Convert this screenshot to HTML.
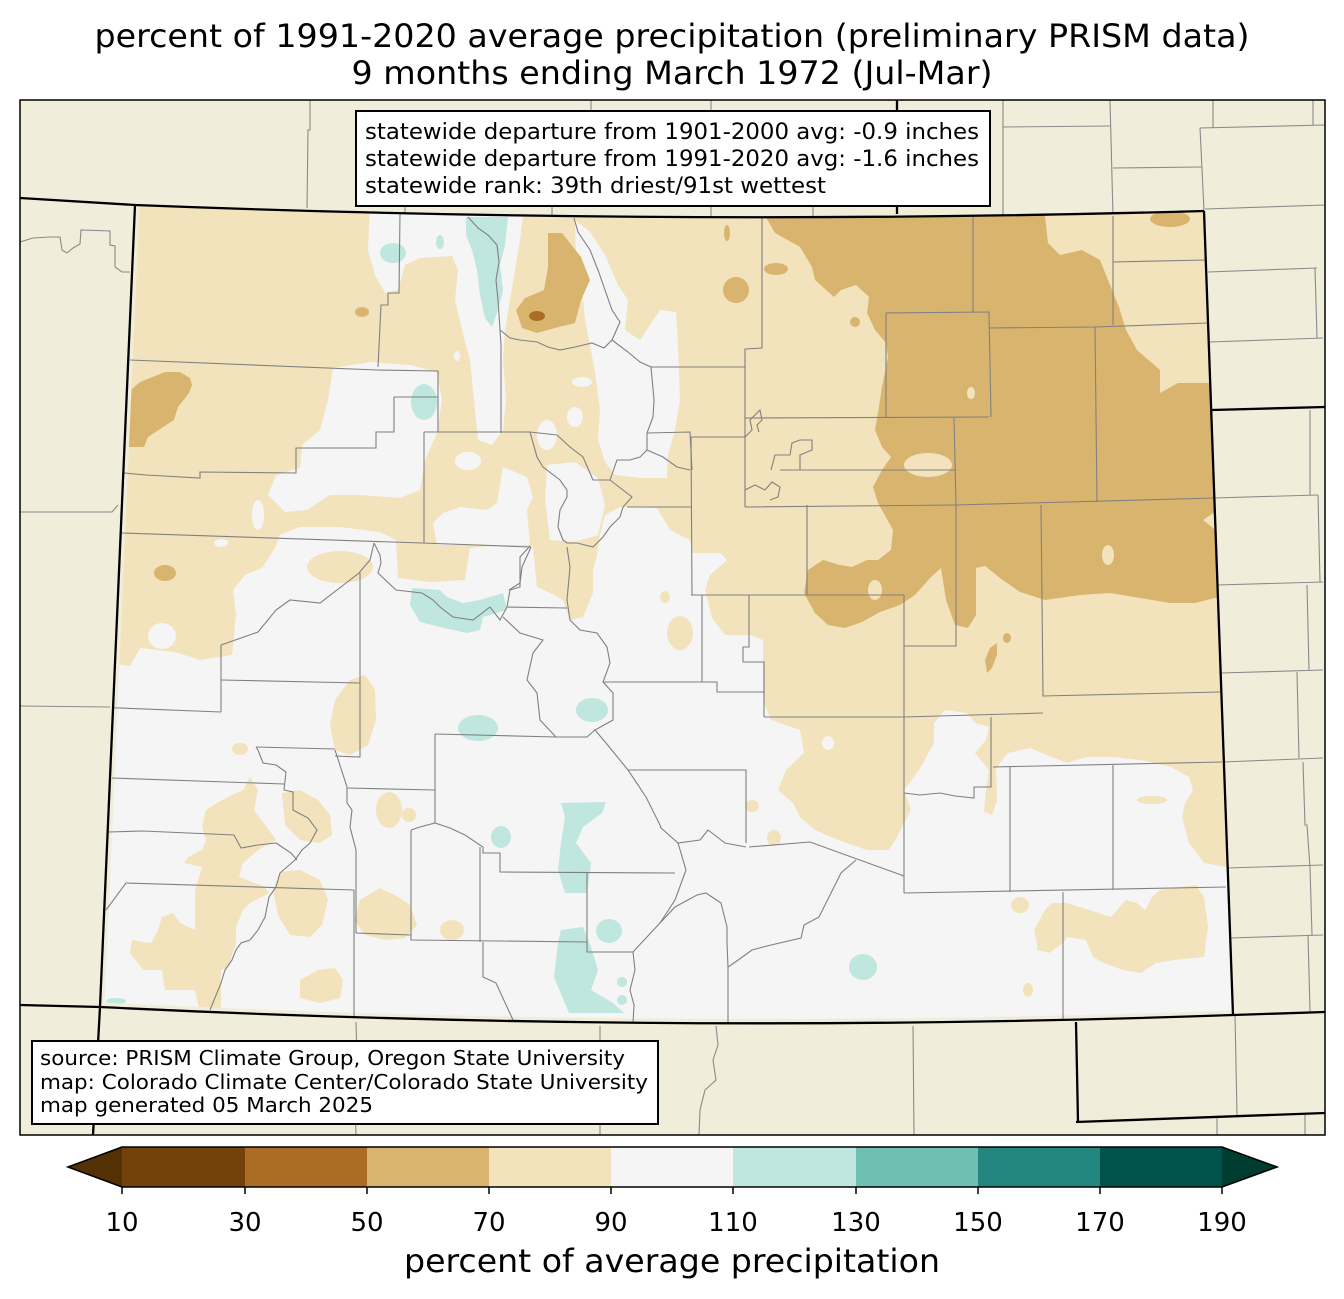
<!DOCTYPE html>
<html><head><meta charset="utf-8"><style>
html,body{margin:0;padding:0;background:#fff;}
svg{display:block;}
text{font-family:"DejaVu Sans","Liberation Sans",sans-serif;fill:#000;}
</style></head><body>
<svg width="1344" height="1299" viewBox="0 0 1344 1299" xmlns="http://www.w3.org/2000/svg">
<defs>
<clipPath id="co"><path d="M135,205 Q670,226 1204,211 L1233,1015 Q666,1035 100,1007 Z"/></clipPath>
<clipPath id="fr"><rect x="20" y="100" width="1305" height="1035"/></clipPath>
</defs>
<rect width="1344" height="1299" fill="#fff"/>
<text x="672" y="47" font-size="32" text-anchor="middle" textLength="1155" lengthAdjust="spacingAndGlyphs">percent of 1991-2020 average precipitation (preliminary PRISM data)</text>
<text x="672" y="84" font-size="32" text-anchor="middle" textLength="641" lengthAdjust="spacingAndGlyphs">9 months ending March 1972 (Jul-Mar)</text>

<g clip-path="url(#fr)">
<rect x="20" y="100" width="1305" height="1035" fill="#f0eedb"/>
<!-- outside county lines -->
<g fill="none" stroke="#8a8a8a" stroke-width="1.1">
<polyline points="20,242 33,238 50,237 60,237 62,250 67,253 73,248 80,244 81,230 110,231 110,245 115,246 115,267 122,272 130,272"/>
<polyline points="20,512 112,512 118,505"/>
<polyline points="20,706 110,707"/>
<polyline points="310,100 310,130 308,130 307,208"/>
<polyline points="405,200 405,214"/><polyline points="552,200 552,216"/><polyline points="711,100 711,216"/><polyline points="813,200 813,216"/><polyline points="591,100 591,112"/>
<polyline points="1003,100 1003,215"/><polyline points="1003,127 1110,126"/><polyline points="1110,100 1113,216"/>
<polyline points="1113,168 1202,167"/><polyline points="1213,100 1213,128"/><polyline points="1200,128 1325,125"/><polyline points="1200,128 1204,211"/><polyline points="1313,100 1313,125"/>
<polyline points="1205,209 1325,205"/><polyline points="1208,272 1317,268"/><polyline points="1315,268 1317,338"/><polyline points="1210,342 1323,338"/>
<polyline points="1213,498 1318,495"/><polyline points="1310,410 1310,495"/><polyline points="1217,585 1323,582"/><polyline points="1318,495 1320,582"/>
<polyline points="1220,673 1323,670"/><polyline points="1307,585 1309,670"/><polyline points="1223,762 1323,758"/><polyline points="1297,672 1299,758"/>
<polyline points="1227,868 1323,865"/><polyline points="1303,762 1305,825 1307,825 1310,868"/><polyline points="1230,938 1323,935"/><polyline points="1310,868 1312,935"/><polyline points="1308,935 1310,1012"/>
<polyline points="1235,1015 1237,1115"/><polyline points="1217,1118 1217,1135"/><polyline points="1305,1115 1305,1135"/>
<polyline points="356,1022 357,1060 355,1100 356,1135"/><polyline points="600,1026 600,1135"/>
<polyline points="716,1026 718,1045 713,1060 716,1080 705,1090 700,1110 699,1135"/><polyline points="913,1026 914,1135"/>
</g>

<!-- Colorado data -->
<g clip-path="url(#co)">
<rect x="90" y="190" width="1170" height="860" fill="#f4f5f4"/>
<polygon fill="#f2e3bc" points="100,185 1260,185 1260,867 1226,867 1204,863 1189,843 1182,817 1185,803 1193,790 1189,777 1171,767 1141,760 1111,757 1086,757 1067,763 1052,757 1030,748 1008,753 996,768 997,800 992,815 984,812 986,790 989,770 975,753 986,740 989,727 975,723 967,713 945,710 934,723 934,743 919,770 904,790 911,810 904,823 897,837 889,850 867,850 838,840 815,830 800,817 793,803 778,790 786,770 804,753 800,730 771,720 763,700 763,640 750,635 725,635 712,618 705,590 710,575 727,560 720,553 693,553 690,540 670,530 657,508 620,507 605,515 600,535 597,555 593,570 593,593 583,617 570,620 563,600 550,593 537,587 533,547 500,545 470,548 465,580 430,582 398,578 396,540 380,532 340,527 300,527 280,535 275,548 262,568 245,575 233,590 236,615 232,655 200,660 175,652 140,648 130,666 90,660"/>
<!-- white holes -->
<g fill="#f4f5f4">
<polygon points="370,200 525,200 520,240 515,270 510,300 505,330 503,360 506,400 503,430 492,445 478,440 474,400 470,360 462,330 455,300 458,270 452,256 420,258 405,265 398,290 385,293 375,275 368,250"/>
<polygon points="333,368 370,362 410,365 437,372 442,400 437,433 425,460 420,490 400,498 360,495 330,495 307,510 285,512 268,495 276,475 300,468 302,445 320,430 328,400"/>
<polygon points="503,467 527,477 533,497 527,510 530,545 437,545 433,523 443,513 460,507 487,510 497,503"/>
<polygon points="547,465 575,462 598,478 605,505 598,535 575,542 550,540 545,500"/>
<polygon points="575,220 590,232 605,255 618,285 628,300 625,330 640,340 660,310 676,312 678,345 680,400 675,430 668,455 667,478 640,478 615,475 605,462 598,440 600,410 595,372 590,345 585,320 582,290 576,260"/>
<ellipse cx="547" cy="435" rx="10" ry="15"/><ellipse cx="575" cy="417" rx="8" ry="10"/><ellipse cx="468" cy="461" rx="13" ry="9"/>
<ellipse cx="582" cy="382" rx="10" ry="5"/><ellipse cx="162" cy="636" rx="14" ry="13"/><ellipse cx="258" cy="515" rx="6" ry="15"/>
<ellipse cx="221" cy="543" rx="7" ry="4"/><ellipse cx="457" cy="356" rx="3" ry="5"/>
</g>
<!-- tan islands -->
<g fill="#f2e3bc">
<ellipse cx="340" cy="567" rx="33" ry="16"/>
<polygon points="250,777 258,790 254,810 269,830 276,840 258,850 243,863 239,877 265,887 269,893 250,903 243,910 236,927 236,943 228,967 221,970 221,1010 199,1010 195,990 165,990 162,970 143,970 130,953 132,940 151,943 158,930 162,917 173,913 180,923 195,930 195,903 195,890 199,877 202,867 184,863 188,857 202,850 206,840 202,827 206,810 217,803 228,797 243,790"/>
<polygon points="350,680 365,675 375,690 376,720 368,745 350,755 335,750 330,725 335,700"/>
<ellipse cx="240" cy="749" rx="8" ry="6"/>
<polygon points="282,793 300,790 318,800 330,815 332,835 320,843 300,840 285,825"/>
<polygon points="280,872 300,870 320,880 328,900 322,925 310,937 290,935 278,915 273,890"/>
<ellipse cx="389" cy="810" rx="13" ry="18"/><ellipse cx="409" cy="815" rx="7" ry="7"/>
<polygon points="360,900 380,888 395,895 410,905 417,925 405,938 385,940 365,935 354,920"/>
<ellipse cx="452" cy="930" rx="12" ry="10"/>
<polygon points="300,980 318,970 335,968 343,980 340,998 320,1003 300,998"/>
<ellipse cx="680" cy="633" rx="13" ry="17"/><ellipse cx="665" cy="597" rx="5" ry="6"/>
<ellipse cx="1152" cy="800" rx="15" ry="4"/>
<polygon points="1037,943 1034,930 1045,910 1052,903 1067,903 1089,910 1111,917 1126,900 1137,903 1145,910 1152,897 1160,890 1196,885 1204,897 1208,927 1204,957 1174,960 1156,963 1141,973 1123,970 1104,963 1093,957 1086,940 1067,937 1063,943 1049,953 1037,950"/>
<ellipse cx="1020" cy="905" rx="9" ry="8"/><ellipse cx="1028" cy="990" rx="5" ry="7"/>
<ellipse cx="774" cy="838" rx="7" ry="8"/><ellipse cx="752" cy="806" rx="7" ry="6"/>
</g>
<ellipse cx="828" cy="743" rx="6" ry="7" fill="#f4f5f4"/>
<!-- dark tan -->
<g fill="#d9b46f">
<polygon points="756,200 1045,200 1045,216 1048,243 1060,255 1082,250 1100,260 1108,280 1119,307 1126,330 1137,350 1160,370 1160,393 1178,383 1260,383 1260,600 1215,598 1195,603 1170,603 1140,598 1110,593 1080,595 1045,600 1020,592 1000,578 985,566 976,568 976,615 968,628 955,625 946,600 941,568 930,578 915,595 900,605 880,612 862,622 845,628 828,625 815,613 804,593 808,570 823,560 840,565 852,567 867,560 878,560 891,550 893,530 878,503 873,487 882,470 891,457 882,447 875,430 878,413 882,387 888,357 886,343 875,330 867,313 869,297 856,285 841,290 834,297 815,280 812,267 800,247 775,233"/>
<polygon points="131,390 140,382 150,378 165,372 180,372 190,378 192,385 189,393 178,407 174,420 163,427 148,437 144,447 125,447 125,390"/>
<polygon points="548,233 562,233 581,257 590,280 581,300 575,323 555,328 537,333 522,328 516,310 525,298 544,290 548,267"/>
<ellipse cx="362" cy="312" rx="7" ry="5"/><ellipse cx="165" cy="573" rx="11" ry="8"/><ellipse cx="736" cy="290" rx="13" ry="13"/>
<ellipse cx="776" cy="269" rx="12" ry="6"/><ellipse cx="855" cy="322" rx="5" ry="5"/><ellipse cx="1170" cy="219" rx="20" ry="8"/>
<ellipse cx="1007" cy="638" rx="4" ry="5"/><ellipse cx="727" cy="233" rx="3" ry="8"/>
<polygon points="987,673 985,660 990,648 997,643 997,655 992,668"/>
</g>
<g fill="#f2e3bc">
<ellipse cx="971" cy="393" rx="4" ry="6"/><ellipse cx="928" cy="465" rx="24" ry="12"/><ellipse cx="1108" cy="555" rx="6" ry="10"/><ellipse cx="875" cy="590" rx="7" ry="10"/>
<polygon points="1218,510 1203,520 1218,532"/>
</g>
<ellipse cx="537" cy="316" rx="8" ry="5" fill="#ab6d23"/>
<!-- teal -->
<g fill="#bfe6df">
<polygon points="466,217 508,217 505,245 500,265 503,290 498,310 492,327 485,318 480,295 477,270 472,250 466,235"/>
<ellipse cx="393" cy="253" rx="13" ry="10"/><ellipse cx="440" cy="242" rx="4" ry="7"/><ellipse cx="424" cy="402" rx="13" ry="18"/>
<polygon points="412,588 440,590 447,597 463,603 480,600 503,593 507,610 483,617 480,630 467,633 440,627 420,622 410,605"/>
<ellipse cx="478" cy="728" rx="20" ry="13"/><ellipse cx="592" cy="710" rx="16" ry="12"/><ellipse cx="501" cy="837" rx="10" ry="11"/>
<polygon points="561,803 606,802 602,813 583,827 576,843 591,863 587,893 565,893 558,870 561,843 565,817"/>
<polygon points="561,930 583,927 591,947 598,970 591,990 613,1003 624,1013 569,1013 554,977 558,943"/>
<ellipse cx="609" cy="931" rx="13" ry="12"/><ellipse cx="863" cy="967" rx="14" ry="13"/>
<ellipse cx="622" cy="982" rx="5" ry="5"/><ellipse cx="622" cy="1000" rx="5" ry="5"/><ellipse cx="116" cy="1001" rx="10" ry="3"/>
</g>
<!-- cream margin where grid does not reach border -->
<path d="M1233,1015 Q666,1035 100,1007 L135,205" fill="none" stroke="#f0eedb" stroke-width="9"/>
<!-- county lines -->
<g fill="none" stroke="#808080" stroke-width="1.1">
<polyline points="400,213 399,293 388,293 388,305 381,305 378,367"/>
<polyline points="130,360 377,370 438,371 438,432"/>
<polyline points="124,473 146,475 200,478 200,472 296,473 296,448 376,448 376,432 394,432 394,397 438,397"/>
<polyline points="122,533 422,543 531,547"/>
<polyline points="424,432 530,432 557,435"/>
<polyline points="424,432 424,543"/>
<polyline points="468,217 478,228 488,235 497,245 499,262 496,280 498,300 500,330 501,345 501,433"/>
<polyline points="500,330 510,338 520,340 537,342 548,347 560,350 575,347 592,343 604,348 612,340 620,322 612,310 605,290 598,270 590,250 578,232 574,218"/>
<polyline points="612,340 628,352 640,362 651,367 654,400 653,417 647,433 647,450 640,457 630,460 617,460 610,480 593,480 583,457 570,447 557,435"/>
<polyline points="530,432 537,457 543,467 560,480 567,490 567,497 560,510 558,527 563,540 567,543 577,543 593,547 603,537 610,527 620,517 623,507 632,497 623,490 610,480"/>
<polyline points="647,433 690,432 692,470"/>
<polyline points="647,450 663,457 677,467 690,470"/>
<polyline points="627,507 692,507"/>
<polyline points="651,367 745,367"/>
<polyline points="762,217 762,348 745,349 745,507"/>
<polyline points="745,418 989,417"/>
<polyline points="886,313 886,418"/>
<polyline points="886,313 989,312 991,417"/>
<polyline points="973,216 973,312"/>
<polyline points="989,328 1095,327 1208,323"/>
<polyline points="1113,216 1113,325"/>
<polyline points="1113,262 1206,260"/>
<polyline points="1095,327 1097,502"/>
<polyline points="954,418 956,505 956,646 904,646"/>
<polyline points="745,507 956,505 1215,498"/>
<polyline points="691,437 692,595"/>
<polyline points="691,437 745,437"/>
<polyline points="780,470 956,470"/>
<polyline points="807,505 807,595"/>
<polyline points="691,595 904,595"/>
<polyline points="904,595 904,893"/>
<polyline points="1041,505 1043,696 1220,692"/>
<polyline points="764,717 904,717 1043,713"/>
<polyline points="749,595 749,647 743,647 743,662 764,662 764,717"/>
<polyline points="603,682 717,682 717,692 764,692"/>
<polyline points="702,595 702,682"/>
<polyline points="628,770 746,770 746,843"/>
<polyline points="749,847 810,842 904,876"/>
<polyline points="904,893 1226,887"/>
<polyline points="991,717 991,787 974,787 974,798 955,796 940,793 920,795 904,793"/>
<polyline points="1010,767 1010,892"/>
<polyline points="993,767 1222,762"/>
<polyline points="1113,765 1113,890"/>
<polyline points="1063,892 1063,1020"/>
<polyline points="660,827 678,843 700,840 708,830 725,843 746,847"/>
<polyline points="856,860 841,873 819,917 804,925 801,938 771,945 752,950 734,963 728,967 728,1023"/>
<polyline points="633,952 660,923 675,907 697,895 706,893 721,903 727,927 727,943 728,967"/>
<polyline points="678,843 686,870 675,900 660,923"/>
<polyline points="567,547 570,567 567,600 570,620 580,630 597,633 607,647 610,663 603,682 613,693 613,720 595,730 606,743 628,770 646,797 661,827"/>
<polyline points="435,734 556,737 587,737 595,730"/>
<polyline points="435,734 435,823"/>
<polyline points="411,830 420,827 435,823 450,828 465,835 483,847 483,853 500,853 500,872 675,873"/>
<polyline points="411,830 411,940 587,942"/>
<polyline points="480,847 480,942"/>
<polyline points="587,873 587,952 633,952"/>
<polyline points="483,942 483,977 496,983 513,1020"/>
<polyline points="633,952 635,970 630,990 634,1005 633,1023"/>
<polyline points="221,645 221,712"/>
<polyline points="221,645 258,632 276,610 290,600 320,603 359,573 370,560 374,543"/>
<polyline points="95,707 221,712"/>
<polyline points="221,680 360,683"/>
<polyline points="360,573 360,757 335,756"/>
<polyline points="256,747 335,749"/>
<polyline points="256,747 258,750 263,763 276,765 286,772 284,790 293,792 293,810 308,818 317,830 310,843 302,850 295,860 280,873 276,887 269,897 265,917 258,930 250,940 241,943 236,950 232,960 225,970 221,983 210,1010"/>
<polyline points="112,778 284,784"/>
<polyline points="108,832 143,831 234,835 241,848 258,845 276,843 291,853 297,860"/>
<polyline points="126,883 354,890"/>
<polyline points="126,883 106,910"/>
<polyline points="354,890 354,1018"/>
<polyline points="335,750 347,787 347,803 352,810 350,827 356,850 356,933 411,935"/>
<polyline points="347,788 435,790"/>
<polyline points="374,543 380,555 381,563 378,573 396,590 422,593 433,600 440,607 453,617 473,620 490,607 500,620 507,607 510,590 520,587 520,557 530,546"/>
<polyline points="507,607 567,608"/>
<polyline points="503,617 520,633 543,640 533,653 527,680 537,693 540,720 556,737"/>
<polyline points="531,547 522,567 520,583 509,590"/>
<polyline points="771,470 775,455 790,455 792,443 800,440 812,440 812,450 800,455 800,470"/>
<polyline points="745,490 755,485 765,490 772,482 780,487 778,497 770,500"/>
<polyline points="745,437 752,430 750,420 757,413 760,410 762,420 757,425 759,432"/>
</g>
</g>

<!-- state borders -->
<g fill="none" stroke="#000" stroke-width="2.3">
<path d="M20,198 L135,205 Q670,226 1204,211"/>
<path d="M1204,211 L1233,1015"/>
<path d="M1212,410 L1325,407"/>
<path d="M1325,1012 L1233,1015 Q666,1035 100,1007 L20,1005"/>
<path d="M135,205 L100,1007 L93,1135"/>
<path d="M897,100 L897,214"/>
<path d="M1076,1022 L1078,1122"/>
<path d="M1076,1122 L1325,1113"/>
</g>
</g>
<rect x="20" y="100" width="1305" height="1035" fill="none" stroke="#000" stroke-width="1.5"/>

<!-- top info box -->
<rect x="356" y="111" width="634" height="95" fill="#fff" stroke="#000" stroke-width="2"/>
<text x="365" y="139" font-size="22.5" textLength="614" lengthAdjust="spacingAndGlyphs">statewide departure from 1901-2000 avg: -0.9 inches</text>
<text x="365" y="166" font-size="22.5" textLength="614" lengthAdjust="spacingAndGlyphs">statewide departure from 1991-2020 avg: -1.6 inches</text>
<text x="365" y="193" font-size="22.5" textLength="461" lengthAdjust="spacingAndGlyphs">statewide rank: 39th driest/91st wettest</text>

<!-- bottom source box -->
<rect x="32" y="1041" width="626" height="83" fill="#fff" stroke="#000" stroke-width="2"/>
<text x="40" y="1065" font-size="20.5" textLength="585" lengthAdjust="spacingAndGlyphs">source: PRISM Climate Group, Oregon State University</text>
<text x="40" y="1089" font-size="20.5" textLength="608" lengthAdjust="spacingAndGlyphs">map: Colorado Climate Center/Colorado State University</text>
<text x="40" y="1112" font-size="20.5" textLength="333" lengthAdjust="spacingAndGlyphs">map generated 05 March 2025</text>

<!-- colorbar -->
<polygon points="68,1167 122,1147 122,1187" fill="#543005"/>
<rect x="122" y="1147" width="123" height="40" fill="#73420a"/>
<rect x="245" y="1147" width="122" height="40" fill="#ab6d23"/>
<rect x="367" y="1147" width="122" height="40" fill="#d9b46f"/>
<rect x="489" y="1147" width="122" height="40" fill="#f2e3bc"/>
<rect x="611" y="1147" width="122" height="40" fill="#f4f5f4"/>
<rect x="733" y="1147" width="123" height="40" fill="#bfe6df"/>
<rect x="856" y="1147" width="122" height="40" fill="#6fc0b2"/>
<rect x="978" y="1147" width="122" height="40" fill="#23877f"/>
<rect x="1100" y="1147" width="122" height="40" fill="#00534a"/>
<polygon points="1222,1147 1277,1167 1222,1187" fill="#003c30"/>
<polygon points="68,1167 122,1147 1222,1147 1277,1167 1222,1187 122,1187" fill="none" stroke="#000" stroke-width="1.6"/>
<g stroke="#000" stroke-width="1.5">
<line x1="122" y1="1187" x2="122" y2="1194"/><line x1="245" y1="1187" x2="245" y2="1194"/><line x1="367" y1="1187" x2="367" y2="1194"/>
<line x1="489" y1="1187" x2="489" y2="1194"/><line x1="611" y1="1187" x2="611" y2="1194"/><line x1="733" y1="1187" x2="733" y2="1194"/>
<line x1="856" y1="1187" x2="856" y2="1194"/><line x1="978" y1="1187" x2="978" y2="1194"/><line x1="1100" y1="1187" x2="1100" y2="1194"/>
<line x1="1222" y1="1187" x2="1222" y2="1194"/>
</g>
<g font-size="26" text-anchor="middle">
<text x="122" y="1231">10</text><text x="245" y="1231">30</text><text x="367" y="1231">50</text><text x="489" y="1231">70</text>
<text x="611" y="1231">90</text><text x="733" y="1231">110</text><text x="856" y="1231">130</text><text x="978" y="1231">150</text>
<text x="1100" y="1231">170</text><text x="1222" y="1231">190</text>
</g>
<text x="672" y="1272" font-size="32" text-anchor="middle" textLength="536" lengthAdjust="spacingAndGlyphs">percent of average precipitation</text>
</svg>
</body></html>
